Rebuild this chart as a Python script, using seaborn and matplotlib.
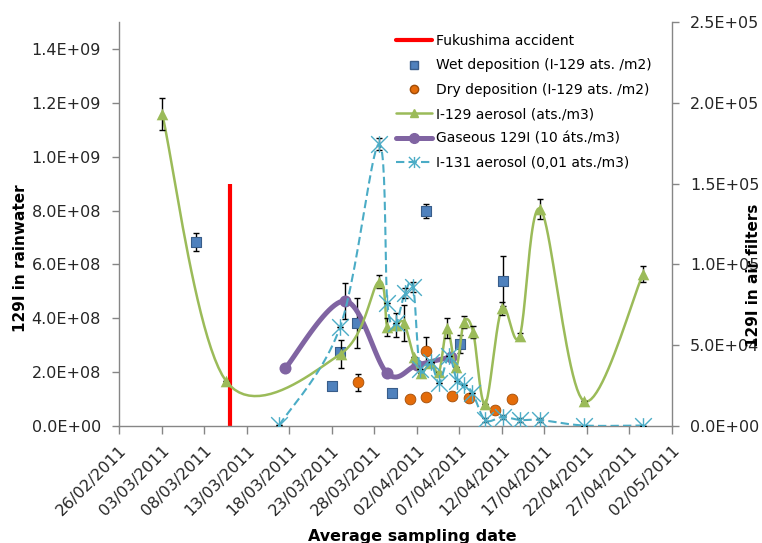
import matplotlib
matplotlib.use('Agg')
import matplotlib.pyplot as plt
import matplotlib.dates as mdates
from matplotlib.path import Path
from matplotlib.lines import Line2D
import seaborn as sns
import numpy as np
import pandas as pd

sns.set_theme(style='white')
plt.rcParams['font.family'] = ['DejaVu Sans']
plt.rcParams['text.color'] = 'black'

# ---- data ----
fukushima_date = '2011-03-11'
fukushima_top = 9.0e8

# left axis (129I in rainwater)
wet_dates = ['2011-03-07 02:00', '2011-03-23 01:00', '2011-03-23 23:00', '2011-03-26 00:00',
             '2011-03-30 03:00', '2011-04-03 01:00', '2011-04-07 02:00', '2011-04-12 02:00']
wet_values = [6.83e8, 1.49e8, 2.76e8, 3.82e8, 1.22e8, 7.99e8, 3.05e8, 5.39e8]
wet_err = [3.5e7, 0, 0, 9.3e7, 0, 2.6e7, 3.3e7, 9.3e7]

dry_dates = ['2011-03-26 02:00', '2011-04-01 05:00', '2011-04-03 01:00', '2011-04-03 01:00',
             '2011-04-06 04:00', '2011-04-08 02:00', '2011-04-11 04:00', '2011-04-13 04:00']
dry_values = [1.62e8, 9.9e7, 1.08e8, 2.80e8, 1.12e8, 1.05e8, 6.0e7, 9.9e7]
dry_err = [3.2e7, 0, 0, 5.1e7, 0, 0, 0, 0]

# right axis (129I in air filters)
aer129_dates = ['2011-03-03 02:00', '2011-03-10 14:00', '2011-03-24 01:00', '2011-03-28 13:00',
                '2011-03-29 13:00', '2011-03-30 14:00', '2011-03-31 12:00', '2011-04-01 16:00',
                '2011-04-02 12:00', '2011-04-03 15:00', '2011-04-04 15:00', '2011-04-05 14:00',
                '2011-04-06 15:00', '2011-04-07 13:00', '2011-04-08 15:00', '2011-04-10 01:00',
                '2011-04-12 00:00', '2011-04-14 02:00', '2011-04-16 13:00', '2011-04-21 15:00',
                '2011-04-28 14:00']
aer129_values = [1.929e5, 2.78e4, 4.46e4, 8.94e4, 6.10e4, 6.25e4, 6.37e4, 4.27e4, 3.28e4, 3.90e4,
                 3.36e4, 6.06e4, 3.65e4, 6.42e4, 5.82e4, 1.36e4, 7.28e4, 5.54e4, 1.343e5, 1.55e4,
                 9.39e4]
aer129_err = [9.9e3, 0, 8.7e3, 4.3e3, 5.6e3, 7.7e3, 1.1e4, 0, 0, 0, 0, 6.2e3, 0, 3.7e3, 3.7e3,
              0, 4.0e3, 2.0e3, 6.2e3, 0, 5.0e3]

gas129_dates = ['2011-03-17 13:00', '2011-03-24 13:00', '2011-03-29 13:00', '2011-04-02 01:00',
                '2011-04-06 00:00']
gas129_values = [3.57e4, 7.74e4, 3.25e4, 3.77e4, 4.27e4]
gas129_err = [0, 1.1e4, 0, 0, 0]

aer131_dates = ['2011-03-16 20:00', '2011-03-24 00:00', '2011-03-28 13:00', '2011-03-29 13:00',
                '2011-03-30 13:00', '2011-03-31 14:00', '2011-04-01 14:00', '2011-04-02 09:00',
                '2011-04-03 15:00', '2011-04-04 15:00', '2011-04-05 19:00', '2011-04-06 17:00',
                '2011-04-07 13:00', '2011-04-08 13:00', '2011-04-10 01:00', '2011-04-12 02:00',
                '2011-04-14 03:00', '2011-04-16 13:00', '2011-04-21 15:00', '2011-04-28 14:00']
aer131_values = [500, 6.14e4, 1.745e5, 7.64e4, 6.36e4, 8.23e4, 8.6e4, 3.53e4, 3.98e4, 2.68e4,
                 4.33e4, 2.78e4, 2.54e4, 2.06e4, 3.7e3, 5.6e3, 3.7e3, 3.7e3, 300, 300]
aer131_err = [0, 0, 4.0e3, 0, 0, 3.0e3, 3.0e3, 0, 0, 0, 0, 0, 0, 0, 1.5e3, 1.5e3, 1.5e3, 1.5e3, 0, 0]

tick_dates = pd.date_range('2011-02-26', '2011-05-02', freq='5D')

BLUE, BLUE_E = '#4F81BD', '#385D8A'
ORANGE, ORANGE_E = '#E46C0A', '#A04D08'
GREEN = '#9BBB59'
PURPLE = '#8064A2'
TEAL = '#4BACC6'
GRAY = '#868686'


def num(dates):
    return mdates.date2num(pd.to_datetime(dates))


def excel_smooth(xs, ys, n=24):
    # smoothed line like Excel's: bezier segments through the points
    p = np.column_stack([xs, ys]).astype(float)
    p = np.vstack([p[0], p, p[-1]])
    t = np.linspace(0, 1, n)[:, None]
    segs = []
    for i in range(1, len(p) - 2):
        p0, p1, p2, p3 = p[i - 1], p[i], p[i + 1], p[i + 2]
        c1 = p1 + (p2 - p0) / 6
        c2 = p2 - (p3 - p1) / 6
        seg = (1 - t) ** 3 * p1 + 3 * (1 - t) ** 2 * t * c1 + 3 * (1 - t) * t ** 2 * c2 + t ** 3 * p2
        segs.append(seg if i == 1 else seg[1:])
    out = np.vstack(segs)
    return out[:, 0], out[:, 1]


star = Path([(0, -1), (0, 1), (-1, -1), (1, 1), (-1, 1), (1, -1)],
            [Path.MOVETO, Path.LINETO, Path.MOVETO, Path.LINETO, Path.MOVETO, Path.LINETO])

fig = plt.figure(figsize=(7.62, 5.43), dpi=100)
ax = fig.add_axes([119 / 762, 1 - 426 / 543, (672 - 119) / 762, (426 - 22) / 543])
ax2 = ax.twinx()

# primary axis
ax.vlines(num([fukushima_date]), 0, fukushima_top, color='red', lw=3, zorder=2)

ex = num(wet_dates)
ax.errorbar(ex, wet_values, yerr=wet_err, fmt='none', ecolor='black', elinewidth=1,
            capsize=2.5, capthick=1, zorder=2)
sns.scatterplot(x=ex, y=wet_values, ax=ax, marker='s', s=55, color=BLUE,
                edgecolor=BLUE_E, linewidth=0.8, zorder=3)

ex = num(dry_dates)
ax.errorbar(ex, dry_values, yerr=dry_err, fmt='none', ecolor='black', elinewidth=1,
            capsize=2.5, capthick=1, zorder=2)
sns.scatterplot(x=ex, y=dry_values, ax=ax, marker='o', s=60, color=ORANGE,
                edgecolor=ORANGE_E, linewidth=0.6, zorder=3)

# secondary axis
ex = num(gas129_dates)
sx, sy = excel_smooth(ex, gas129_values)
sns.lineplot(x=sx, y=sy, ax=ax2, sort=False, estimator=None, color=PURPLE, lw=3.6, zorder=2)
ax2.errorbar(ex, gas129_values, yerr=gas129_err, fmt='none', ecolor='black', elinewidth=1,
             capsize=2.5, capthick=1, zorder=2.05)
sns.scatterplot(x=ex, y=gas129_values, ax=ax2, marker='o', s=75, color=PURPLE,
                edgecolor=PURPLE, linewidth=0, zorder=2.1)

ex = num(aer129_dates)
sx, sy = excel_smooth(ex, aer129_values)
sns.lineplot(x=sx, y=sy, ax=ax2, sort=False, estimator=None, color=GREEN, lw=1.8, zorder=2.5)
ax2.errorbar(ex, aer129_values, yerr=aer129_err, fmt='none', ecolor='black', elinewidth=1,
             capsize=2.5, capthick=1, zorder=2.6)
sns.scatterplot(x=ex, y=aer129_values, ax=ax2, marker='^', s=70, color=GREEN,
                edgecolor=GREEN, linewidth=0, zorder=3)

ex = num(aer131_dates)
sx, sy = excel_smooth(ex, aer131_values)
sns.lineplot(x=sx, y=sy, ax=ax2, sort=False, estimator=None, color=TEAL, lw=1.5,
             dashes=(4, 2), zorder=4)
ax2.errorbar(ex, aer131_values, yerr=aer131_err, fmt='none', ecolor='black', elinewidth=1,
             capsize=2.5, capthick=1, zorder=4.05)
ax2.plot(ex, aer131_values, ls='none', marker=star, ms=12, mfc='none', mec=TEAL, mew=1, zorder=4.1)

# axes
ax.set_xlim(num(['2011-02-26'])[0], num(['2011-05-02'])[0])
ax.set_ylim(0, 1.5e9)
ax2.set_ylim(0, 2.5e5)
ax.set_xticks(num(tick_dates))
ax.set_xticklabels([d.strftime('%d/%m/%Y') for d in tick_dates])
ax.set_yticks(np.arange(0, 1.41e9, 2e8))
ax.set_yticklabels([f'{v:.1E}' for v in np.arange(0, 1.41e9, 2e8)])
ax2.set_yticks(np.arange(0, 2.51e5, 5e4))
ax2.set_yticklabels([f'{v:.1E}' for v in np.arange(0, 2.51e5, 5e4)])
plt.setp(ax.get_xticklabels(), rotation=45, ha='right', va='top', rotation_mode='anchor')

ax.tick_params(axis='x', bottom=True, direction='out', length=6, width=1, color=GRAY,
               labelsize=11.5, pad=6)
ax.tick_params(axis='y', left=True, direction='out', length=5, width=1, color=GRAY,
               labelsize=11.5, pad=8)
ax2.tick_params(axis='y', right=True, direction='out', length=5, width=1, color=GRAY,
                labelsize=11.5, pad=8)
for a in (ax, ax2):
    a.grid(False)
    a.spines['top'].set_visible(False)
    for s in ('left', 'right', 'bottom'):
        a.spines[s].set_color(GRAY)
        a.spines[s].set_linewidth(1)
ax.spines['right'].set_visible(False)
ax2.spines['left'].set_visible(False)
ax2.spines['bottom'].set_visible(False)
ax.set_xlabel('')
ax.set_ylabel('')
ax2.set_xlabel('')
ax2.set_ylabel('')

fig.text(412 / 762, 1 - 536 / 543, 'Average sampling date', ha='center', va='center',
         fontsize=11.5, fontweight='bold')
fig.text(21 / 762, 1 - 258 / 543, '129I in rainwater', ha='center', va='center',
         rotation=90, fontsize=11, fontweight='bold')
fig.text(753 / 762, 1 - 275 / 543, '129I in air filters', ha='center', va='center',
         rotation=90, fontsize=11, fontweight='bold')

handles = [
    Line2D([], [], color='red', lw=3),
    Line2D([], [], ls='none', marker='s', ms=6, color=BLUE, mec=BLUE_E),
    Line2D([], [], ls='none', marker='o', ms=6, color=ORANGE, mec=ORANGE_E),
    Line2D([], [], color=GREEN, lw=1.8, marker='^', ms=6),
    Line2D([], [], color=PURPLE, lw=3.6, marker='o', ms=7),
    Line2D([], [], color=TEAL, lw=1.5, dashes=(4, 2), marker=star, ms=8, mfc='none', mec=TEAL),
]
labels = ['Fukushima accident', 'Wet deposition (I-129 ats. /m2)', 'Dry deposition (I-129 ats. /m2)',
          'I-129 aerosol (ats./m3)', 'Gaseous 129I (10 áts./m3)', 'I-131 aerosol (0,01 ats./m3)']
ax2.legend(handles, labels, loc='upper left', bbox_to_anchor=(396 / 762, 1 - 34 / 543),
           bbox_transform=fig.transFigure, frameon=False, fontsize=10, handlelength=2.6,
           handletextpad=0.3, labelspacing=0.75, borderpad=0, borderaxespad=0)

fig.savefig('out.png', dpi=100)
